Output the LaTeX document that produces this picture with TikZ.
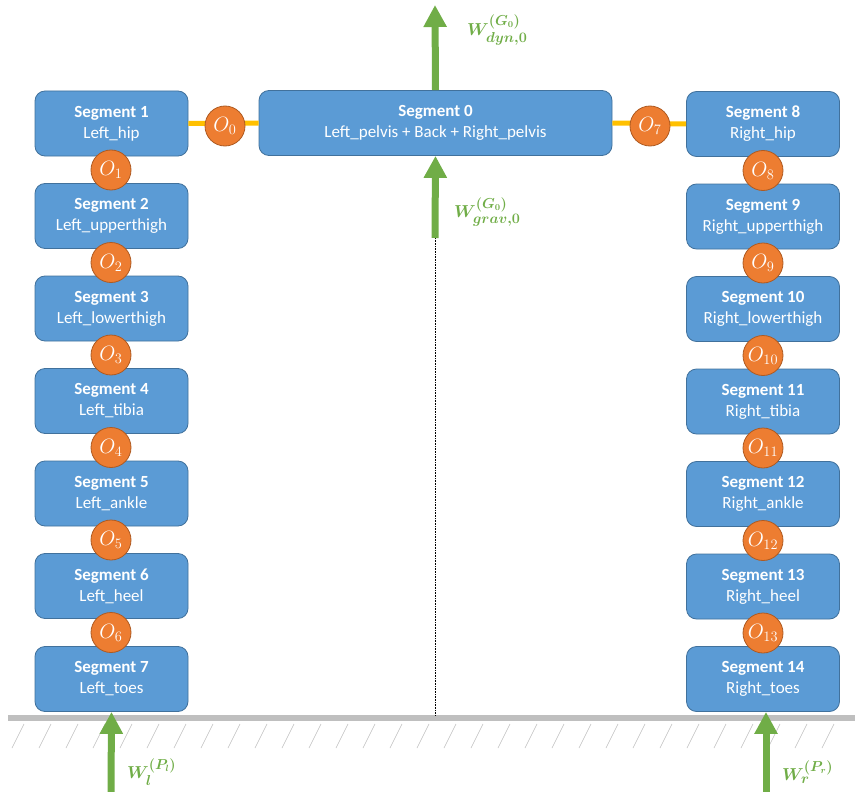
\documentclass[tikz,border=0pt]{standalone}
\usepackage{fontspec}
\setmainfont{Carlito}
\usepackage{amsmath}
\usetikzlibrary{arrows.meta}
\definecolor{segblue}{HTML}{5B9BD5}
\definecolor{segedge}{HTML}{41719C}
\definecolor{jorange}{HTML}{ED7D31}
\definecolor{jedge}{HTML}{AE5A21}
\definecolor{jyellow}{HTML}{FFC000}
\definecolor{fgreen}{HTML}{70AD47}
\definecolor{ground}{HTML}{BFBFBF}
\tikzset{
  seg/.style={draw=segedge, line width=0.8pt, fill=segblue, rounded corners=10pt,
    minimum width=153pt, minimum height=65pt, text=white, align=center,
    font=\fontsize{17}{21}\selectfont, inner sep=0pt},
  joint/.style={circle, draw=jedge, line width=0.8pt, fill=jorange, minimum size=40pt,
    inner sep=0pt, text=white, font=\fontsize{21}{21}\selectfont},
  link/.style={draw=jyellow, line width=5pt},
  force/.style={draw=fgreen, line width=7pt, -{Triangle[width=22pt,length=22pt]}},
  flabel/.style={text=fgreen, font=\fontsize{19}{19}\selectfont\boldmath, inner sep=0pt},
  hatch/.style={draw=ground, line width=0.6pt}
}
\begin{document}
\begin{tikzpicture}[x=1pt,y=-1pt]
\useasboundingbox (0,0) rectangle (855,792);
% ground
\fill[ground] (8,715) rectangle (855,721);
\foreach \x in {12,39,...,840} {
  \draw[hatch] (\x,748) -- (\x+12,724);
}
% dotted axis
\coordinate (gravstart) at (435,238);
\coordinate (axisend) at (435,715);
\draw[densely dotted, line width=0.6pt] (gravstart) -- (axisend);
% segments
\node[seg] (s0) at (435.5,123) [minimum width=353pt] {\textbf{Segment 0}\\Left\_pelvis + Back + Right\_pelvis};
\node[seg] (s1) at (111.5,123.5) {\textbf{Segment 1}\\Left\_hip};
\node[seg] (s2) at (111.5,216) {\textbf{Segment 2}\\Left\_upperthigh};
\node[seg] (s3) at (111.5,308.5) {\textbf{Segment 3}\\Left\_lowerthigh};
\node[seg] (s4) at (111.5,401) {\textbf{Segment 4}\\Left\_tibia};
\node[seg] (s5) at (111.5,493.5) {\textbf{Segment 5}\\Left\_ankle};
\node[seg] (s6) at (111.5,586) {\textbf{Segment 6}\\Left\_heel};
\node[seg] (s7) at (111.5,679) {\textbf{Segment 7}\\Left\_toes};
\node[seg] (s8) at (763,124) {\textbf{Segment 8}\\Right\_hip};
\node[seg] (s9) at (763,216.5) {\textbf{Segment 9}\\Right\_upperthigh};
\node[seg] (s10) at (763,309) {\textbf{Segment 10}\\Right\_lowerthigh};
\node[seg] (s11) at (763,401.5) {\textbf{Segment 11}\\Right\_tibia};
\node[seg] (s12) at (763,494) {\textbf{Segment 12}\\Right\_ankle};
\node[seg] (s13) at (763,586.5) {\textbf{Segment 13}\\Right\_heel};
\node[seg] (s14) at (763,679) {\textbf{Segment 14}\\Right\_toes};
% horizontal links
\draw[link] (s1.east) -- (s0.west);
\draw[link] (s0.east) -- (s8.west);
% joints
\node[joint] (o0) at (225,126) {$O_0$};
\node[joint] (o7) at (650,126) {$O_7$};
\node[joint] (o1) at (111,170) {$O_1$};
\node[joint] (o2) at (111,262.5) {$O_2$};
\node[joint] (o3) at (111,355) {$O_3$};
\node[joint] (o4) at (111,447.5) {$O_4$};
\node[joint] (o5) at (111,540) {$O_5$};
\node[joint] (o6) at (111,632.5) {$O_6$};
\node[joint] (o8) at (763,170.5) {$O_8$};
\node[joint] (o9) at (763,263) {$O_9$};
\node[joint] (o10) at (763,355.5) {$O_{10}$};
\node[joint] (o11) at (763,448) {$O_{11}$};
\node[joint] (o12) at (763,540.5) {$O_{12}$};
\node[joint] (o13) at (763,633) {$O_{13}$};
% forces
\coordinate (dyntip) at (435,5);
\draw[force] (s0.north) -- (dyntip);
\draw[force] (gravstart) -- (s0.south);
\coordinate (lbot) at (111,792);
\coordinate (rbot) at (766,792);
\draw[force] (lbot) -- (s7.south);
\draw[force] (rbot) -- (s14.south -| rbot);
% force labels
\node[flabel, anchor=west] (ldyn) at (467,30) {$W^{(G_0)}_{dyn,0}$};
\node[flabel, anchor=west] (lgrav) at (454,212) {$W^{(G_0)}_{grav,0}$};
\node[flabel, anchor=west] (ll) at (127,772) {$W^{(P_l)}_{l}$};
\node[flabel, anchor=west] (lr) at (782,772) {$W^{(P_r)}_{r}$};
\end{tikzpicture}
\end{document}
